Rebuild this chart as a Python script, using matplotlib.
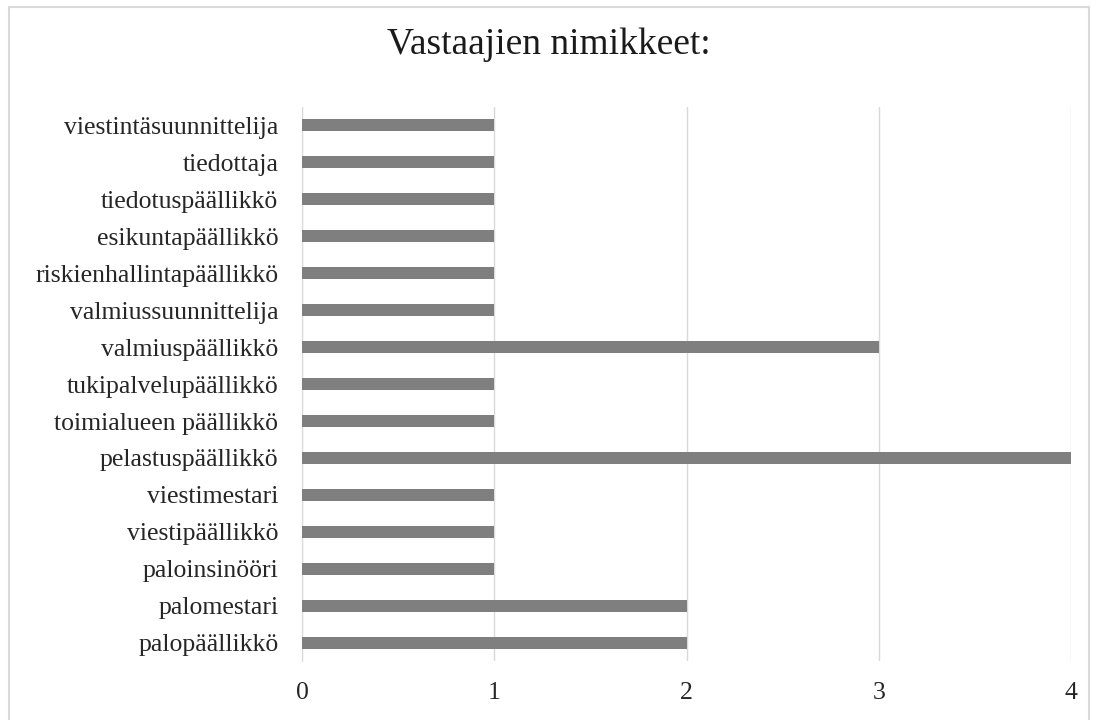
import matplotlib.pyplot as plt
from matplotlib.patches import Rectangle

titles = ["palopäällikkö", "palomestari", "paloinsinööri", "viestipäällikkö",
          "viestimestari", "pelastuspäällikkö", "toimialueen päällikkö",
          "tukipalvelupäällikkö", "valmiuspäällikkö", "valmiussuunnittelija",
          "riskienhallintapäällikkö", "esikuntapäällikkö", "tiedotuspäällikkö",
          "tiedottaja", "viestintäsuunnittelija"]
counts = [2, 2, 1, 1, 1, 4, 1, 1, 3, 1, 1, 1, 1, 1, 1]
xticks = [0, 1, 2, 3, 4]

plt.rcParams['font.family'] = ['Liberation Serif', 'DejaVu Serif']

fig = plt.figure(figsize=(10.97, 7.2), dpi=100)
ax = fig.add_axes([0.2753, 0.0813, 0.701, 0.7707])

ax.barh(range(len(titles)), counts, height=0.34, color='#7f7f7f', zorder=3)
ax.set_xlim(0, 4)
ax.set_ylim(-0.5, len(titles) - 0.5)
ax.set_xticks(xticks)
ax.set_yticks(range(len(titles)))
ax.set_yticklabels(titles)
ax.grid(axis='x', color='#d9d9d9', linewidth=1, zorder=0)
for s in ['top', 'right', 'bottom']:
    ax.spines[s].set_visible(False)
ax.spines['left'].set_color('#d9d9d9')
ax.tick_params(axis='both', length=0, labelsize=18.5, colors='#262626')
ax.tick_params(axis='x', pad=15)
ax.tick_params(axis='y', pad=17)

fig.suptitle("Vastaajien nimikkeet:", x=0.5, y=0.962, fontsize=27, color='#1a1a1a')

fig.patches.append(Rectangle((9 / 1097, -0.01), 1080 / 1097, 0.9997 - 7 / 720 + 0.01,
                             transform=fig.transFigure, fill=False,
                             edgecolor='#d9d9d9', linewidth=1.5))

fig.savefig("out.png", dpi=100)
